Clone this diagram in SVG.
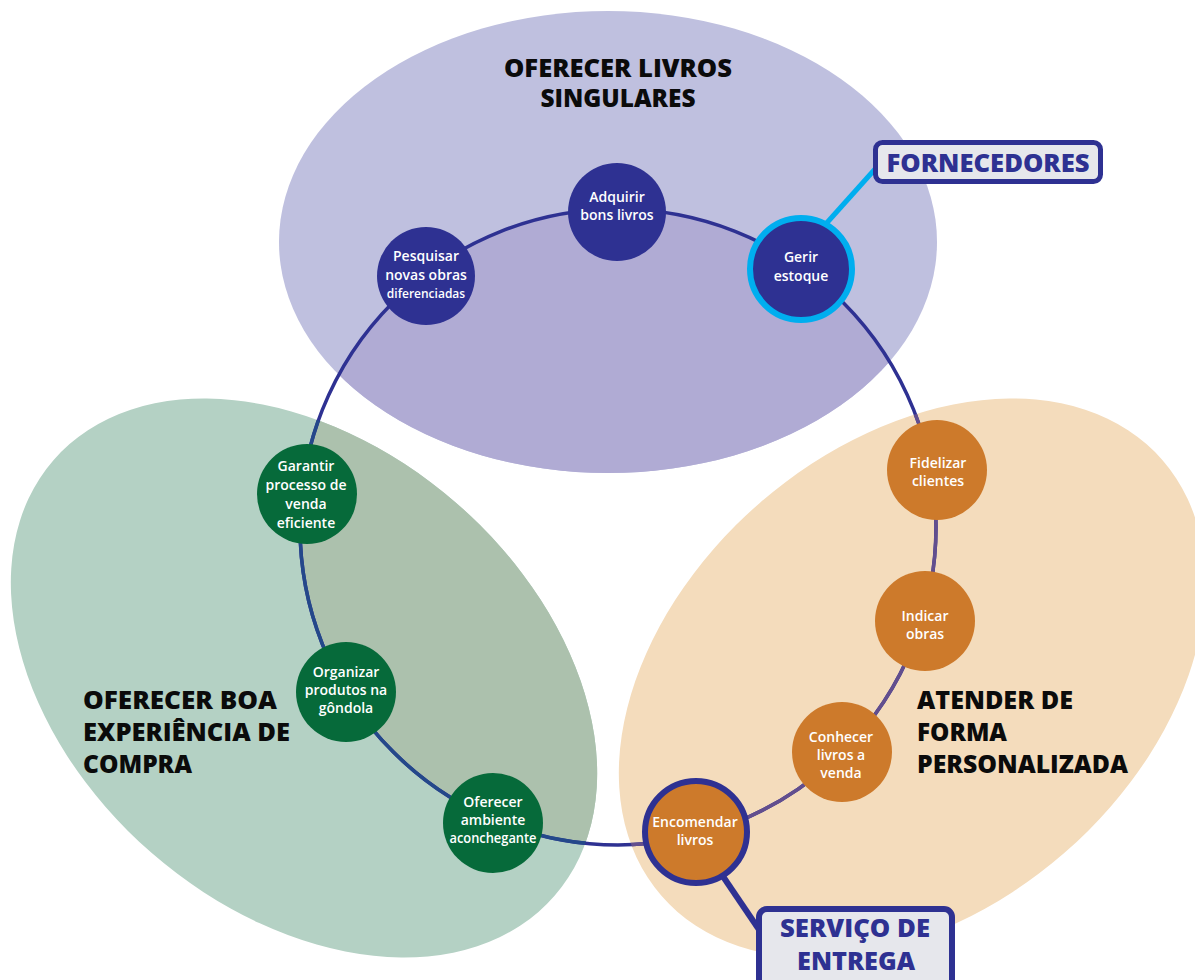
<svg xmlns="http://www.w3.org/2000/svg" width="1195" height="980" viewBox="0 0 1195 980">
  <style>
    .title { font-family: "Open Sans", "Liberation Sans", sans-serif; font-weight: 800; font-size: 24px; fill: #0b0b0b; }
    .tag { font-family: "Open Sans", "Liberation Sans", sans-serif; font-weight: 800; font-size: 25px; fill: #2e3192; text-anchor: middle; }
    .lbl { font-family: "Open Sans", "Liberation Sans", sans-serif; font-weight: 600; font-size: 14px; fill: #ffffff; text-anchor: middle; }
    .small { font-size: 12px; }
    .ring { fill: none; stroke-width: 3.5; }
    .n-blue { fill: #2e3192; }
    .n-green { fill: #066a3a; }
    .n-orange { fill: #cd7a2b; }
    .box { fill: #e6e7ec; stroke: #2e3192; }
  </style>
  <defs>
    <clipPath id="inside-ring"><circle cx="618" cy="527" r="318"/></clipPath>
    <clipPath id="green-area"><ellipse cx="304" cy="678" rx="332" ry="232" transform="rotate(41 304 678)"/></clipPath>
    <clipPath id="orange-area"><ellipse cx="912" cy="678" rx="332" ry="232" transform="rotate(-41 912 678)"/></clipPath>
  </defs>

  <rect width="1195" height="980" fill="#ffffff"/>

  <!-- three goal areas -->
  <g id="area-livros">
    <ellipse cx="608" cy="242" rx="329" ry="231" fill="#bfc0df"/>
    <g clip-path="url(#inside-ring)">
      <ellipse cx="608" cy="242" rx="329" ry="231" fill="#b0abd4"/>
    </g>
    <text class="title" x="618" y="77" text-anchor="middle" textLength="228" lengthAdjust="spacingAndGlyphs">OFERECER LIVROS</text>
    <text class="title" x="618" y="107" text-anchor="middle" textLength="155" lengthAdjust="spacingAndGlyphs">SINGULARES</text>
  </g>
  <g id="area-experiencia">
    <ellipse cx="304" cy="678" rx="332" ry="232" transform="rotate(41 304 678)" fill="#b4d1c4"/>
    <g clip-path="url(#inside-ring)">
      <ellipse cx="304" cy="678" rx="332" ry="232" transform="rotate(41 304 678)" fill="#acc1ad"/>
    </g>
    <text class="title" x="83" y="709" textLength="194" lengthAdjust="spacingAndGlyphs">OFERECER BOA</text>
    <text class="title" x="83" y="741" textLength="207" lengthAdjust="spacingAndGlyphs">EXPERIÊNCIA DE</text>
    <text class="title" x="83" y="773" textLength="109" lengthAdjust="spacingAndGlyphs">COMPRA</text>
  </g>
  <g id="area-atendimento">
    <ellipse cx="912" cy="678" rx="332" ry="232" transform="rotate(-41 912 678)" fill="#f4dcbc"/>
    <text class="title" x="917" y="709" textLength="156" lengthAdjust="spacingAndGlyphs">ATENDER DE</text>
    <text class="title" x="917" y="741" textLength="90" lengthAdjust="spacingAndGlyphs">FORMA</text>
    <text class="title" x="917" y="773" textLength="211" lengthAdjust="spacingAndGlyphs">PERSONALIZADA</text>
  </g>

  <!-- connectors: the process ring and the two external links -->
  <g id="connectors">
    <circle class="ring" cx="618" cy="527" r="318" stroke="#2e3192"/>
    <circle class="ring" cx="618" cy="527" r="318" stroke="#24488a" clip-path="url(#green-area)"/>
    <circle class="ring" cx="618" cy="527" r="318" stroke="#624e8e" clip-path="url(#orange-area)"/>
    <line x1="824" y1="226" x2="876" y2="168" stroke="#00aeef" stroke-width="5"/>
    <line x1="720" y1="872" x2="762" y2="934" stroke="#2e3192" stroke-width="6"/>
  </g>

  <!-- process steps -->
  <g id="node-pesquisar">
    <circle class="n-blue" cx="426" cy="276" r="49"/>
    <text class="lbl" x="426" y="261">Pesquisar</text>
    <text class="lbl" x="426" y="280">novas obras</text>
    <text class="lbl small" x="426" y="298">diferenciadas</text>
  </g>
  <g id="node-adquirir">
    <circle class="n-blue" cx="617" cy="212" r="49"/>
    <text class="lbl" x="617" y="202">Adquirir</text>
    <text class="lbl" x="617" y="220">bons livros</text>
  </g>
  <g id="node-gerir">
    <circle class="n-blue" cx="801" cy="269" r="51" stroke="#00aeef" stroke-width="6"/>
    <text class="lbl" x="801" y="262">Gerir</text>
    <text class="lbl" x="801" y="281">estoque</text>
  </g>
  <g id="node-garantir">
    <circle class="n-green" cx="307" cy="494" r="50"/>
    <text class="lbl" x="306" y="471">Garantir</text>
    <text class="lbl" x="306" y="490">processo de</text>
    <text class="lbl" x="306" y="509">venda</text>
    <text class="lbl" x="306" y="528">eficiente</text>
  </g>
  <g id="node-organizar">
    <circle class="n-green" cx="346" cy="692" r="50"/>
    <text class="lbl" x="346" y="677">Organizar</text>
    <text class="lbl" x="346" y="695">produtos na</text>
    <text class="lbl" x="346" y="713">gôndola</text>
  </g>
  <g id="node-ambiente">
    <circle class="n-green" cx="493" cy="823" r="50"/>
    <text class="lbl" x="493" y="807">Oferecer</text>
    <text class="lbl" x="493" y="825">ambiente</text>
    <text class="lbl" x="493" y="843" textLength="87" lengthAdjust="spacingAndGlyphs">aconchegante</text>
  </g>
  <g id="node-fidelizar">
    <circle class="n-orange" cx="937" cy="470" r="50"/>
    <text class="lbl" x="938" y="468">Fidelizar</text>
    <text class="lbl" x="938" y="486">clientes</text>
  </g>
  <g id="node-indicar">
    <circle class="n-orange" cx="925" cy="621" r="50"/>
    <text class="lbl" x="925" y="621">Indicar</text>
    <text class="lbl" x="925" y="639">obras</text>
  </g>
  <g id="node-conhecer">
    <circle class="n-orange" cx="842" cy="752" r="50"/>
    <text class="lbl" x="841" y="742">Conhecer</text>
    <text class="lbl" x="841" y="760">livros a</text>
    <text class="lbl" x="841" y="778">venda</text>
  </g>
  <g id="node-encomendar">
    <circle class="n-orange" cx="696" cy="832" r="51" stroke="#2e3192" stroke-width="6"/>
    <text class="lbl" x="695" y="827">Encomendar</text>
    <text class="lbl" x="695" y="845">livros</text>
  </g>

  <!-- external partners -->
  <g id="node-fornecedores">
    <rect class="box" x="875.5" y="142.5" width="225" height="39" rx="7" stroke-width="5"/>
    <text class="tag" x="988" y="172" textLength="203" lengthAdjust="spacingAndGlyphs">FORNECEDORES</text>
  </g>
  <g id="node-entrega">
    <rect class="box" x="759" y="909" width="193" height="90" rx="8" stroke-width="6"/>
    <text class="tag" x="855" y="937" textLength="150" lengthAdjust="spacingAndGlyphs">SERVIÇO DE</text>
    <text class="tag" x="856" y="970" textLength="118" lengthAdjust="spacingAndGlyphs">ENTREGA</text>
  </g>
</svg>
